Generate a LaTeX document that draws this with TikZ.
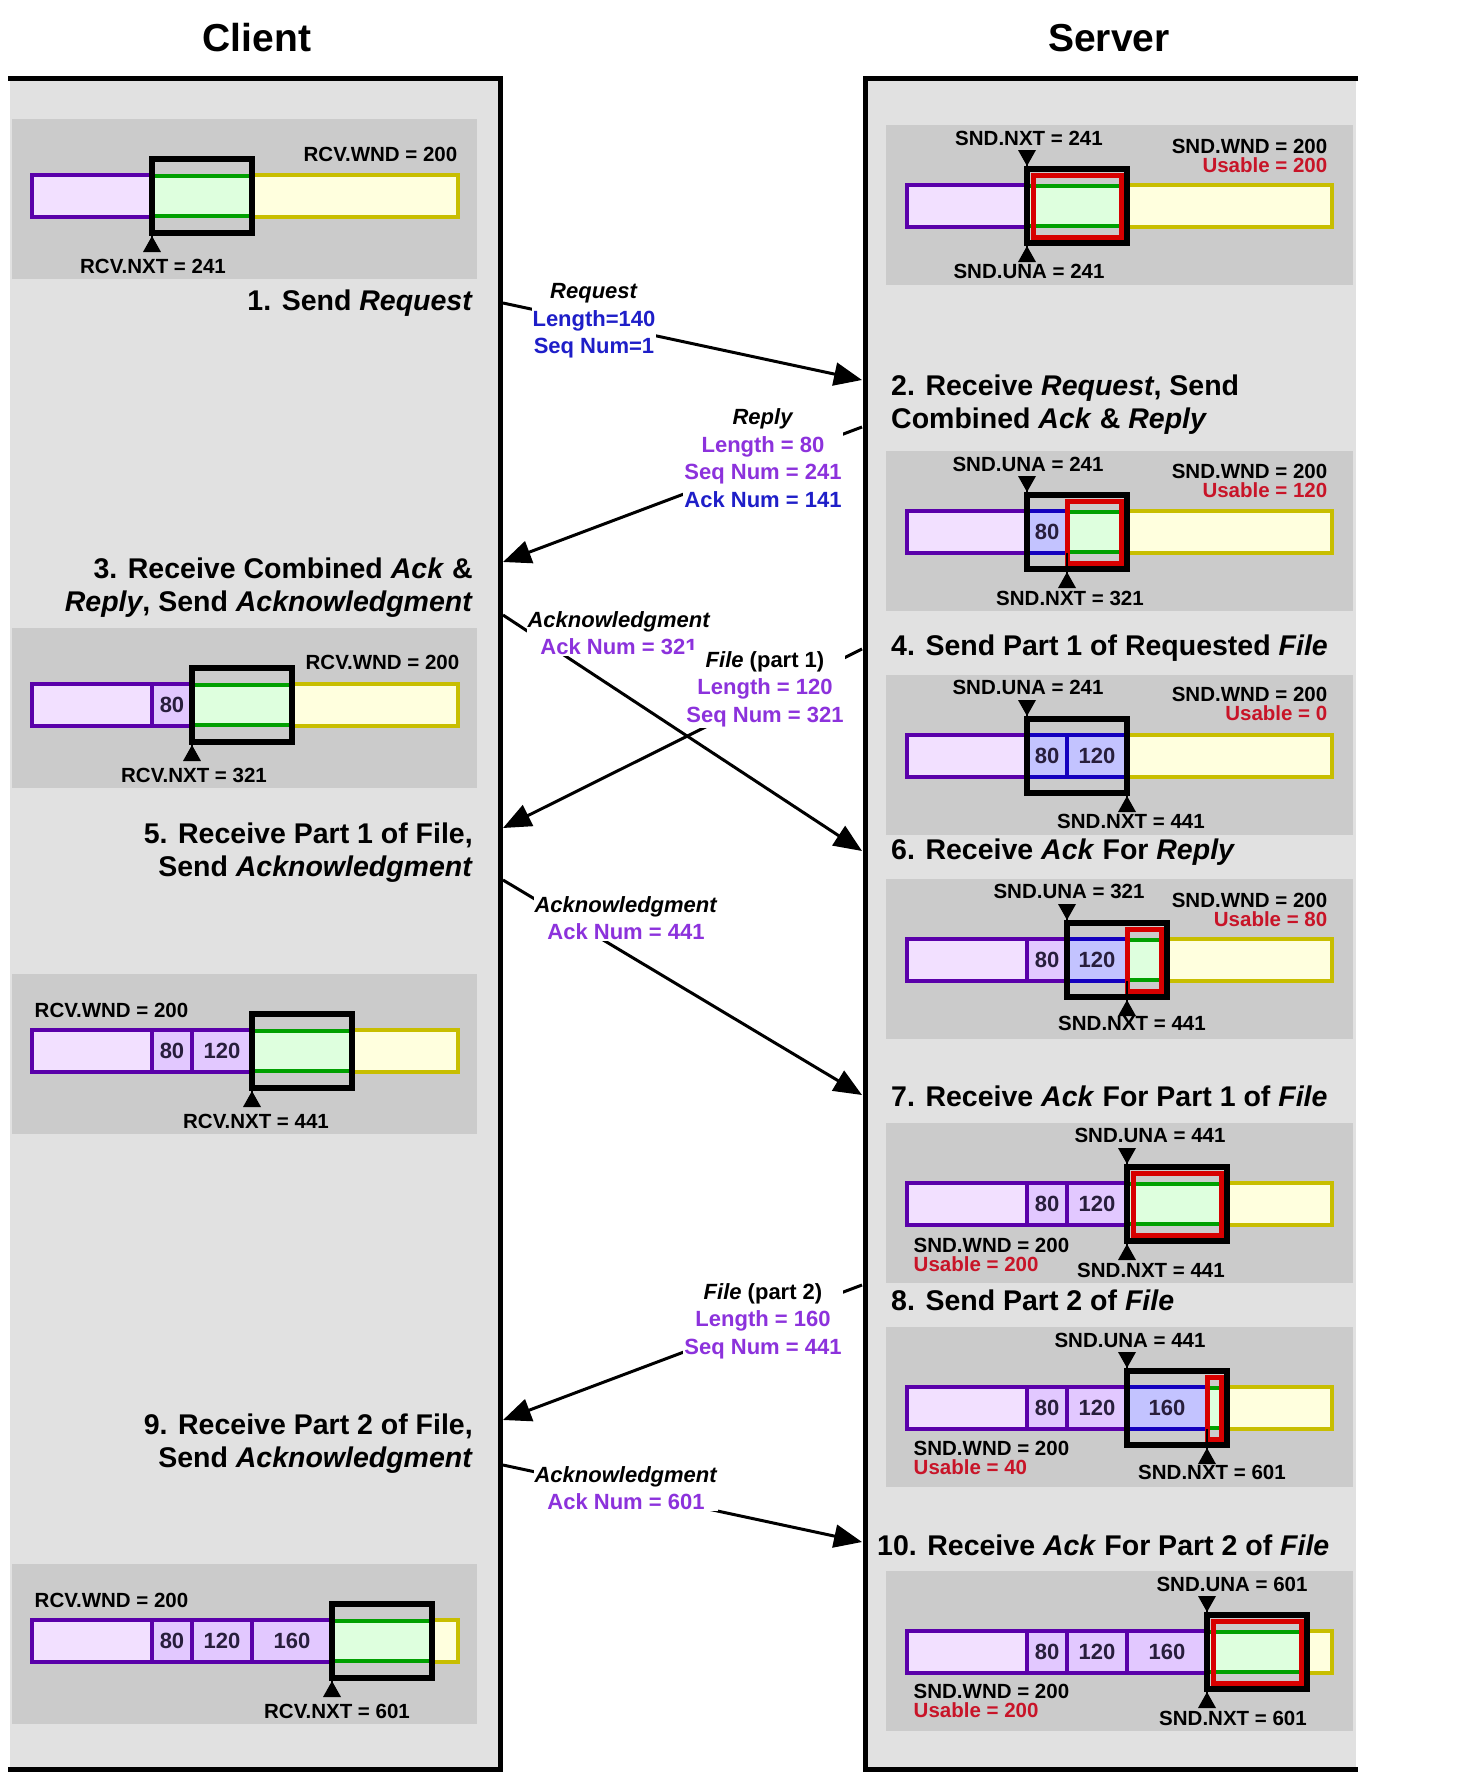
\documentclass[tikz,border=0pt]{standalone}
\usepackage{fontspec}
\setmainfont{Liberation Sans}
\usepackage{tikz}
\usetikzlibrary{arrows.meta, positioning}
\definecolor{panelgray}{RGB}{225,225,225}
\definecolor{boxgray}{RGB}{203,203,203}
\definecolor{ackpurple}{RGB}{90,0,170}
\definecolor{ackfill}{RGB}{242,224,255}
\definecolor{segfill}{RGB}{226,200,255}
\definecolor{sentblue}{RGB}{20,0,190}
\definecolor{sentfill}{RGB}{195,195,255}
\definecolor{usefill}{RGB}{222,255,222}
\definecolor{usegreen}{RGB}{0,160,0}
\definecolor{availfill}{RGB}{255,255,222}
\definecolor{availolive}{RGB}{200,190,0}
\definecolor{usered}{RGB}{215,0,0}
\definecolor{labelred}{RGB}{200,20,40}
\definecolor{reqblue}{RGB}{30,30,200}
\definecolor{msgpurple}{RGB}{140,50,220}
\definecolor{numgray}{RGB}{40,30,60}
\newcommand{\winfont}{\fontsize{20.5}{24}\selectfont\bfseries}
\newcommand{\numfont}{\fontsize{22}{24}\selectfont\bfseries}
\newcommand{\stepfont}{\fontsize{28.5}{33}\selectfont\bfseries}
\newcommand{\msgfont}{\fontsize{22}{27.5}\selectfont\bfseries}
\newcommand{\titlefont}{\fontsize{39}{44}\selectfont\bfseries}
\newcommand{\upmark}[1]{\draw[line width=1.5pt] (#1,21) -- (#1,42);
  \fill (#1,40) -- (#1-9,56) -- (#1+9,56) -- cycle;}
\newcommand{\downmark}[1]{\draw[line width=1.5pt] (#1,-21) -- (#1,-42);
  \fill (#1,-40) -- (#1-9,-56) -- (#1+9,-56) -- cycle;}
\newcommand{\usearea}[2]{\fill[usefill] (#1,-21) rectangle (#2,21);
  \draw[gline] (#1,-20) -- (#2,-20) (#1,20) -- (#2,20);}

\begin{document}
\begin{tikzpicture}[x=1pt, y=-1pt,
        lbl/.style={font=\winfont, inner sep=0.5pt, text height=15pt, text depth=4pt},
        uselbl/.style={lbl, text=labelred},
        steplbl/.style={font=\stepfont, inner sep=1pt},
        title/.style={font=\titlefont, inner sep=1pt},
        msg/.style={font=\msgfont, align=center, fill=white, inner sep=1pt},
        segnum/.style={font=\numfont, text=numgray, inner sep=0pt},
        acked/.style={draw=ackpurple, fill=ackfill, line width=4.5pt},
        seg/.style={draw=ackpurple, fill=segfill, line width=4.5pt},
        sent/.style={draw=sentblue, fill=sentfill, line width=4.5pt},
        avail/.style={draw=availolive, fill=availfill, line width=4pt},
        gline/.style={draw=usegreen, line width=3.5pt},
        wnd/.style={draw=black, line width=6pt},
        redwnd/.style={draw=usered, line width=5pt},
        msgarrow/.style={line width=3pt, -{Triangle[length=28pt,width=23pt]}}]
    \fill[white] (0,0) rectangle (1467,1791);
    \useasboundingbox (0,0) rectangle (1467,1791);

    % columns
    \node[title] (client) at (257,38) {Client};
    \node[title] (server) at (1109,38) {Server};
    \fill[panelgray] (10,78) rectangle (500,1769);
    \fill[panelgray] (865,78) rectangle (1356,1769);
    \draw[line width=5pt] (8,78) -- (500,78) -- (500,1769) -- (8,1769);
    \draw[line width=5pt] (1358,78) -- (865,78) -- (865,1769) -- (1358,1769);

    % ---------- client windows ----------
    \begin{scope}[shift={(0,196)}]
        \fill[boxgray] (12,-77) rectangle (477,83);
        \draw[acked] (32,-21) rectangle (152,21);
        \usearea{152}{252}
        \draw[avail] (252,-21) rectangle (458,21);
        \draw[wnd] (152,-37) rectangle (252,37);
        \upmark{152}
        \node[lbl, anchor=east] (c1wnd) at (458,-40) {RCV.WND = 200};
        \node[lbl] (c1nxt) at (153,72) {RCV.NXT = 241};
    \end{scope}

    \begin{scope}[shift={(0,705)}]
        \fill[boxgray] (12,-77) rectangle (477,83);
        \draw[acked] (32,-21) rectangle (152,21);
        \draw[seg] (152,-21) rectangle (192,21);
        \node[segnum] (c2a) at (172,0) {80};
        \usearea{192}{292}
        \draw[avail] (292,-21) rectangle (458,21);
        \draw[wnd] (192,-37) rectangle (292,37);
        \upmark{192}
        \node[lbl, anchor=east] (c2wnd) at (460,-41) {RCV.WND = 200};
        \node[lbl] (c2nxt) at (194,72) {RCV.NXT = 321};
    \end{scope}

    \begin{scope}[shift={(0,1051)}]
        \fill[boxgray] (12,-77) rectangle (477,83);
        \draw[acked] (32,-21) rectangle (152,21);
        \draw[seg] (152,-21) rectangle (192,21);
        \draw[seg] (192,-21) rectangle (252,21);
        \node[segnum] (c3a) at (172,0) {80};
        \node[segnum] (c3b) at (222,0) {120};
        \usearea{252}{352}
        \draw[avail] (352,-21) rectangle (458,21);
        \draw[wnd] (252,-37) rectangle (352,37);
        \upmark{252}
        \node[lbl, anchor=west] (c3wnd) at (34,-39) {RCV.WND = 200};
        \node[lbl] (c3nxt) at (256,72) {RCV.NXT = 441};
    \end{scope}

    \begin{scope}[shift={(0,1641)}]
        \fill[boxgray] (12,-77) rectangle (477,83);
        \draw[acked] (32,-21) rectangle (152,21);
        \draw[seg] (152,-21) rectangle (192,21);
        \draw[seg] (192,-21) rectangle (252,21);
        \draw[seg] (252,-21) rectangle (332,21);
        \node[segnum] (c4a) at (172,0) {80};
        \node[segnum] (c4b) at (222,0) {120};
        \node[segnum] (c4c) at (292,0) {160};
        \usearea{332}{432}
        \draw[avail] (432,-21) rectangle (458,21);
        \draw[wnd] (332,-37) rectangle (432,37);
        \upmark{332}
        \node[lbl, anchor=west] (c4wnd) at (34,-39) {RCV.WND = 200};
        \node[lbl] (c4nxt) at (337,72) {RCV.NXT = 601};
    \end{scope}

    % ---------- server windows ----------
    \begin{scope}[shift={(0,206)}]
        \fill[boxgray] (886,-81) rectangle (1353,79);
        \draw[acked] (907,-21) rectangle (1027,21);
        \usearea{1027}{1127}
        \draw[avail] (1127,-21) rectangle (1332,21);
        \draw[redwnd] (1033,-31) rectangle (1121,31);
        \draw[wnd] (1027,-37) rectangle (1127,37);
        \downmark{1027}
        \upmark{1027}
        \node[lbl] (s1nxt) at (1029,-66) {SND.NXT = 241};
        \node[lbl] (s1una) at (1029,67) {SND.UNA = 241};
        \node[lbl, anchor=east] (s1wnd) at (1328,-58) {SND.WND = 200};
        \node[uselbl, below=-1pt of s1wnd.south east, anchor=north east] (s1use) {Usable = 200};
    \end{scope}

    \begin{scope}[shift={(0,532)}]
        \fill[boxgray] (886,-81) rectangle (1353,79);
        \draw[acked] (907,-21) rectangle (1027,21);
        \draw[sent] (1027,-21) rectangle (1067,21);
        \node[segnum] (s2a) at (1047,0) {80};
        \usearea{1067}{1127}
        \draw[avail] (1127,-21) rectangle (1332,21);
        \draw[redwnd] (1067,-31) rectangle (1121,31);
        \draw[wnd] (1027,-37) rectangle (1127,37);
        \downmark{1027}
        \upmark{1067}
        \node[lbl] (s2una) at (1028,-66) {SND.UNA = 241};
        \node[lbl] (s2nxt) at (1070,68) {SND.NXT = 321};
        \node[lbl, anchor=east] (s2wnd) at (1328,-59) {SND.WND = 200};
        \node[uselbl, below=-1pt of s2wnd.south east, anchor=north east] (s2use) {Usable = 120};
    \end{scope}

    \begin{scope}[shift={(0,756)}]
        \fill[boxgray] (886,-81) rectangle (1353,79);
        \draw[acked] (907,-21) rectangle (1027,21);
        \draw[sent] (1027,-21) rectangle (1067,21);
        \draw[sent] (1067,-21) rectangle (1127,21);
        \node[segnum] (s3a) at (1047,0) {80};
        \node[segnum] (s3b) at (1097,0) {120};
        \draw[avail] (1127,-21) rectangle (1332,21);
        \draw[wnd] (1027,-37) rectangle (1127,37);
        \downmark{1027}
        \upmark{1127}
        \node[lbl] (s3una) at (1028,-67) {SND.UNA = 241};
        \node[lbl] (s3nxt) at (1131,67) {SND.NXT = 441};
        \node[lbl, anchor=east] (s3wnd) at (1328,-60) {SND.WND = 200};
        \node[uselbl, below=-1pt of s3wnd.south east, anchor=north east] (s3use) {Usable = 0};
    \end{scope}

    \begin{scope}[shift={(0,960)}]
        \fill[boxgray] (886,-81) rectangle (1353,79);
        \draw[acked] (907,-21) rectangle (1027,21);
        \draw[seg] (1027,-21) rectangle (1067,21);
        \draw[sent] (1067,-21) rectangle (1127,21);
        \node[segnum] (s4a) at (1047,0) {80};
        \node[segnum] (s4b) at (1097,0) {120};
        \usearea{1127}{1167}
        \draw[avail] (1167,-21) rectangle (1332,21);
        \draw[redwnd] (1127,-31) rectangle (1161,31);
        \draw[wnd] (1067,-37) rectangle (1167,37);
        \downmark{1067}
        \upmark{1127}
        \node[lbl] (s4una) at (1069,-67) {SND.UNA = 321};
        \node[lbl] (s4nxt) at (1132,65) {SND.NXT = 441};
        \node[lbl, anchor=east] (s4wnd) at (1328,-58) {SND.WND = 200};
        \node[uselbl, below=-1pt of s4wnd.south east, anchor=north east] (s4use) {Usable = 80};
    \end{scope}

    \begin{scope}[shift={(0,1204)}]
        \fill[boxgray] (886,-81) rectangle (1353,79);
        \draw[acked] (907,-21) rectangle (1027,21);
        \draw[seg] (1027,-21) rectangle (1067,21);
        \draw[seg] (1067,-21) rectangle (1127,21);
        \node[segnum] (s5a) at (1047,0) {80};
        \node[segnum] (s5b) at (1097,0) {120};
        \usearea{1127}{1227}
        \draw[avail] (1227,-21) rectangle (1332,21);
        \draw[redwnd] (1133,-31) rectangle (1221,31);
        \draw[wnd] (1127,-37) rectangle (1227,37);
        \downmark{1127}
        \upmark{1127}
        \node[lbl] (s5una) at (1150,-67) {SND.UNA = 441};
        \node[lbl] (s5nxt) at (1151,68) {SND.NXT = 441};
        \node[lbl, anchor=west] (s5wnd) at (913,43) {SND.WND = 200};
        \node[uselbl, below=-1pt of s5wnd.south west, anchor=north west] (s5use) {Usable = 200};
    \end{scope}

    \begin{scope}[shift={(0,1408)}]
        \fill[boxgray] (886,-81) rectangle (1353,79);
        \draw[acked] (907,-21) rectangle (1027,21);
        \draw[seg] (1027,-21) rectangle (1067,21);
        \draw[seg] (1067,-21) rectangle (1127,21);
        \draw[sent] (1127,-21) rectangle (1207,21);
        \node[segnum] (s6a) at (1047,0) {80};
        \node[segnum] (s6b) at (1097,0) {120};
        \node[segnum] (s6c) at (1167,0) {160};
        \usearea{1207}{1227}
        \draw[avail] (1227,-21) rectangle (1332,21);
        \draw[redwnd] (1207,-31) rectangle (1221,31);
        \draw[wnd] (1127,-37) rectangle (1227,37);
        \downmark{1127}
        \upmark{1207}
        \node[lbl] (s6una) at (1130,-66) {SND.UNA = 441};
        \node[lbl] (s6nxt) at (1212,66) {SND.NXT = 601};
        \node[lbl, anchor=west] (s6wnd) at (913,42) {SND.WND = 200};
        \node[uselbl, below=-1pt of s6wnd.south west, anchor=north west] (s6use) {Usable = 40};
    \end{scope}

    \begin{scope}[shift={(0,1652)}]
        \fill[boxgray] (886,-81) rectangle (1353,79);
        \draw[acked] (907,-21) rectangle (1027,21);
        \draw[seg] (1027,-21) rectangle (1067,21);
        \draw[seg] (1067,-21) rectangle (1127,21);
        \draw[seg] (1127,-21) rectangle (1207,21);
        \node[segnum] (s7a) at (1047,0) {80};
        \node[segnum] (s7b) at (1097,0) {120};
        \node[segnum] (s7c) at (1167,0) {160};
        \usearea{1207}{1307}
        \draw[avail] (1307,-21) rectangle (1332,21);
        \draw[redwnd] (1213,-31) rectangle (1301,31);
        \draw[wnd] (1207,-37) rectangle (1307,37);
        \downmark{1207}
        \upmark{1207}
        \node[lbl] (s7una) at (1232,-66) {SND.UNA = 601};
        \node[lbl] (s7nxt) at (1233,68) {SND.NXT = 601};
        \node[lbl, anchor=west] (s7wnd) at (913,41) {SND.WND = 200};
        \node[uselbl, below=-1pt of s7wnd.south west, anchor=north west] (s7use) {Usable = 200};
    \end{scope}

    % ---------- steps ----------
    \node[steplbl, anchor=east] (step1) at (474,303) {1. Send \textit{Request}};
    \node[steplbl, anchor=west, align=left] (step2) at (890,405)
        {2. Receive \textit{Request}, Send\\Combined \textit{Ack} \& \textit{Reply}};
    \node[steplbl, anchor=east, align=right] (step3) at (474,588)
        {3. Receive Combined \textit{Ack} \&\\\textit{Reply}, Send \textit{Acknowledgment}};
    \node[steplbl, anchor=west] (step4) at (890,648) {4. Send Part 1 of Requested \textit{File}};
    \node[steplbl, anchor=east, align=right] (step5) at (474,853)
        {5. Receive Part 1 of File,\\Send \textit{Acknowledgment}};
    \node[steplbl, anchor=west] (step6) at (890,852) {6. Receive \textit{Ack} For \textit{Reply}};
    \node[steplbl, anchor=west] (step7) at (890,1096) {7. Receive \textit{Ack} For Part 1 of \textit{File}};
    \node[steplbl, anchor=west] (step8) at (890,1300) {8. Send Part 2 of \textit{File}};
    \node[steplbl, anchor=east, align=right] (step9) at (474,1444)
        {9. Receive Part 2 of File,\\Send \textit{Acknowledgment}};
    \node[steplbl, anchor=west] (step10) at (876,1545) {10. Receive \textit{Ack} For Part 2 of \textit{File}};

    % ---------- segments ----------
    \coordinate (reqsrc) at (503,303);   \coordinate (reqdst) at (862,380);
    \coordinate (repsrc) at (862,427);   \coordinate (repdst) at (503,562);
    \coordinate (ackAsrc) at (503,615);  \coordinate (ackAdst) at (862,851);
    \coordinate (fileAsrc) at (862,649); \coordinate (fileAdst) at (503,828);
    \coordinate (ackBsrc) at (503,880);  \coordinate (ackBdst) at (862,1095);
    \coordinate (fileBsrc) at (862,1285); \coordinate (fileBdst) at (503,1420);
    \coordinate (ackCsrc) at (503,1465); \coordinate (ackCdst) at (862,1542);

    \draw[msgarrow] (reqsrc) -- (reqdst);
    \draw[msgarrow] (repsrc) -- (repdst);
    \draw[msgarrow] (ackAsrc) -- (ackAdst);
    \draw[msgarrow] (fileAsrc) -- (fileAdst);
    \draw[msgarrow] (ackBsrc) -- (ackBdst);
    \draw[msgarrow] (fileBsrc) -- (fileBdst);
    \draw[msgarrow] (ackCsrc) -- (ackCdst);

    \node[msg] (reqmsg) at (594,321)
        {\textit{Request}\\\color{reqblue}Length=140\\\color{reqblue}Seq Num=1};
    \node[msg] (repmsg) at (763,458)
        {\textit{Reply}\\\color{msgpurple}Length = 80\\\color{msgpurple}Seq Num = 241\\\color{reqblue}Ack Num = 141};
    \node[msg] (ackAmsg) at (619,633)
        {\textit{Acknowledgment}\\\color{msgpurple}Ack Num = 321};
    \node[msg] (fileAmsg) at (765,689)
        {\textit{File} (part 1)\\\color{msgpurple}Length = 120\\\color{msgpurple}Seq Num = 321};
    \node[msg] (ackBmsg) at (626,918)
        {\textit{Acknowledgment}\\\color{msgpurple}Ack Num = 441};
    \node[msg] (fileBmsg) at (763,1321)
        {\textit{File} (part 2)\\\color{msgpurple}Length = 160\\\color{msgpurple}Seq Num = 441};
    \node[msg] (ackCmsg) at (626,1488)
        {\textit{Acknowledgment}\\\color{msgpurple}Ack Num = 601};
\end{tikzpicture}
\end{document}
